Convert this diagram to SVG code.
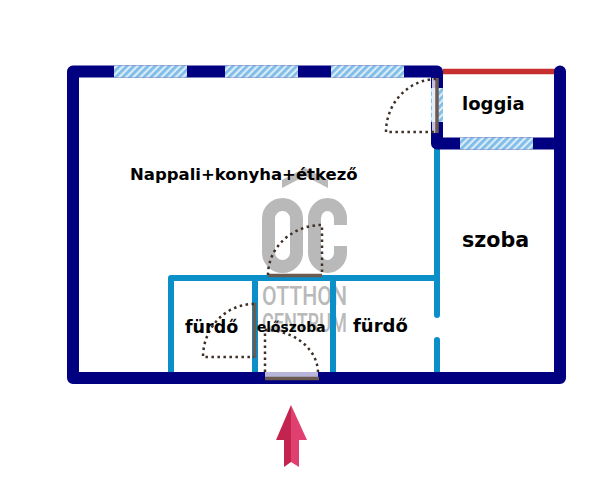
<svg xmlns="http://www.w3.org/2000/svg" width="609" height="500" viewBox="0 0 609 500">
<style>
.t{font-family:"DejaVu Sans",sans-serif;font-weight:700;fill:#000}
.outer{fill:none;stroke:#000080;stroke-width:12;stroke-linecap:round;stroke-linejoin:round}
.inner{fill:none;stroke:#0b8fc9;stroke-width:6;stroke-linecap:round;stroke-linejoin:round}
.leaf{fill:none;stroke:#6b5a50;stroke-width:3.500}
.swing{fill:none;stroke:#3d3028;stroke-width:2.500;stroke-dasharray:2.500 3.500}
.ot{font-family:"Roboto","Liberation Sans",sans-serif;font-weight:500;fill:#b9b9b9}
</style>
<defs>
<pattern id="h" width="5" height="5" patternUnits="userSpaceOnUse" patternTransform="rotate(45)">
<rect width="5" height="5" fill="#d9ecf8"/><rect width="2.800" height="5" fill="#7fbde8"/>
</pattern>
</defs>
<g id="watermark">
<path fill="#b9b9b9" d="M282 180L305 168L328 180V188L305 176L282 188Z"/>
<rect x="268.500" y="204.500" width="28" height="62" rx="14" fill="none" stroke="#b9b9b9" stroke-width="13"/>
<path d="M340.500 225V218.500A13 14 0 0 0 314.500 218.500V252.500A13 14 0 0 0 340.500 252.500V246" fill="none" stroke="#b9b9b9" stroke-width="13"/>
<text class="ot" x="262" y="305" font-size="25" textLength="85" lengthAdjust="spacingAndGlyphs">OTTHON</text>
<text class="ot" x="262" y="332" font-size="25" textLength="85" lengthAdjust="spacingAndGlyphs">CENTRUM</text>
</g>
<g id="connectors">
<path class="inner" d="M437 150V278M171 278H437M171 278V378M255 278V378M333 278V378M437 278V315M437 340V378"/>
<path d="M443 71.500H555" fill="none" stroke="#c62f2f" stroke-width="5.500"/>
<path class="outer" d="M73 378V71.500H437V143.500H560M560 71.500V378H73"/>
</g>
<g id="windows">
<rect x="114" y="65.500" width="73" height="12" fill="url(#h)"/>
<rect x="225" y="65.500" width="73" height="12" fill="url(#h)"/>
<rect x="331" y="65.500" width="73" height="12" fill="url(#h)"/>
<rect x="460" y="137.500" width="73" height="12" fill="url(#h)"/>
<rect x="431" y="88" width="12" height="34" fill="url(#h)"/>
</g>
<g id="door-loggia">
<rect x="432" y="78" width="5" height="55" fill="#c4c0de"/>
<rect x="432" y="88" width="5" height="34" fill="#e4eef6"/>
<path class="leaf" d="M437 78V133"/>
<path class="swing" d="M436 79A51 53 0 0 0 386 132H436"/>
</g>
<g id="door-top">
<path class="leaf" d="M268 275.500H322"/>
<path class="swing" d="M268 275A54 50 0 0 1 322 225V275"/>
</g>
<g id="door-furdo">
<path class="leaf" d="M254.500 303V358"/>
<path class="swing" d="M254 304A51 53 0 0 0 203 357H254"/>
</g>
<g id="door-entry">
<rect x="265" y="372" width="53" height="5" fill="#b9b5da"/>
<path class="leaf" d="M265 378.500H319"/>
<path class="swing" d="M265 372V330A53 43 0 0 1 318 372"/>
</g>
<g id="arrow">
<path d="M291 405L276 440H284V467L291 462Z" fill="#c2234f"/>
<path d="M291 405L307 440H299V467L291 462Z" fill="#e0406f"/>
</g>
<g id="labels">
<text class="t" x="130" y="180" font-size="16.500">Nappali+konyha+étkező</text>
<text class="t" x="462" y="110" font-size="18">loggia</text>
<text class="t" x="462" y="247" font-size="20.600">szoba</text>
<text class="t" x="185" y="333" font-size="17.500">fürdő</text>
<text class="t" x="353" y="332" font-size="18">fürdő</text>
<text class="t" x="257" y="332" font-size="13.800">előszoba</text>
</g>
</svg>
